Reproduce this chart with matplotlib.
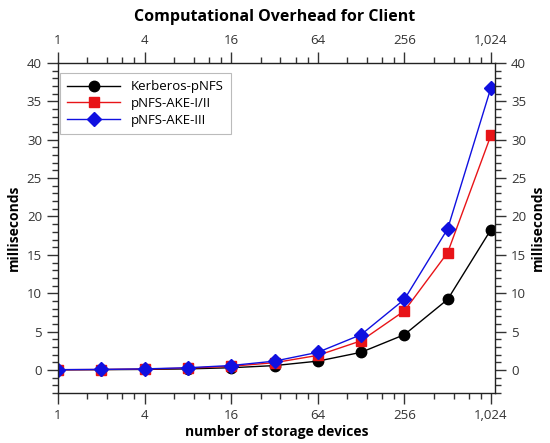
import numpy as np
import matplotlib
matplotlib.use("Agg")
import matplotlib.pyplot as plt
from matplotlib.ticker import FixedLocator, FuncFormatter

plt.rcParams['font.family'] = ['Open Sans', 'DejaVu Sans']

# number of storage devices
devices = [1, 2, 4, 8, 16, 32, 64, 128, 256, 512, 1024]

# computation time in milliseconds
kerberos = [0.02, 0.04, 0.07, 0.14, 0.29, 0.57, 1.15, 2.3, 4.6, 9.2, 18.3]
ake_1_2 = [0.03, 0.06, 0.12, 0.24, 0.48, 0.95, 1.9, 3.8, 7.7, 15.3, 30.6]
ake_3 = [0.04, 0.07, 0.14, 0.29, 0.58, 1.15, 2.3, 4.6, 9.2, 18.4, 36.8]

major_x = [1, 4, 16, 64, 256, 1024]
y_ticks = [0, 5, 10, 15, 20, 25, 30, 35, 40]

fig = plt.figure(figsize=(5.5, 4.43), dpi=100)
ax = fig.add_axes([0.1055, 0.1129, 0.7945, 0.7449])

ax.plot(devices, kerberos, color='black', lw=1, marker='o', ms=7.5,
        label='Kerberos-pNFS')
ax.plot(devices, ake_1_2, color='#e81418', lw=1, marker='s', ms=7,
        label='pNFS-AKE-I/II')
ax.plot(devices, ake_3, color='#1010e0', lw=1, marker='D', ms=7,
        label='pNFS-AKE-III')

ax.set_xscale('log', base=2)
ax.set_xlim(1, 1092)
ax.set_ylim(-3, 40)

# minor x ticks split each major interval in 5 linear parts
minor_x = []
for a in major_x[:-1]:
    minor_x += [a + 0.6 * a * k for k in range(1, 5)]
fmt = FuncFormatter(lambda v, p: f"{int(round(v)):,}")

ax.xaxis.set_major_locator(FixedLocator(major_x))
ax.xaxis.set_minor_locator(FixedLocator(minor_x))
ax.xaxis.set_major_formatter(fmt)
ax.xaxis.set_minor_formatter(FuncFormatter(lambda v, p: ""))
ax.yaxis.set_major_locator(FixedLocator(y_ticks))
ax.yaxis.set_minor_locator(FixedLocator([v for v in range(-3, 41) if v % 5]))

ax.tick_params(which='both', direction='out', top=True, right=True,
               labeltop=True, labelright=True, labelsize=9.5,
               colors='#333333', width=1)
ax.tick_params(which='major', length=8)
ax.tick_params(which='minor', length=4)
for s in ax.spines.values():
    s.set_linewidth(1)
    s.set_color('#222222')

ax.set_xlabel('number of storage devices', fontsize=10, fontweight='bold',
              labelpad=2)
ax.set_ylabel('milliseconds', fontsize=10, fontweight='bold', labelpad=4)
ax2 = ax.secondary_yaxis('right')
ax2.set_yticks([])
ax2.spines['right'].set_visible(False)
ax2.set_ylabel('milliseconds', fontsize=10, fontweight='bold', labelpad=26)

fig.suptitle('Computational Overhead for Client', fontsize=11.5,
             fontweight='bold', y=0.98)

leg = ax.legend(loc='upper left', bbox_to_anchor=(0.005, 0.97),
                borderaxespad=0, fontsize=9.5, handlelength=4,
                numpoints=1, fancybox=False, framealpha=1,
                edgecolor='#bbbbbb', labelspacing=0.3, borderpad=0.55)
leg.get_frame().set_linewidth(0.8)

fig.savefig('out.png', dpi=100)
